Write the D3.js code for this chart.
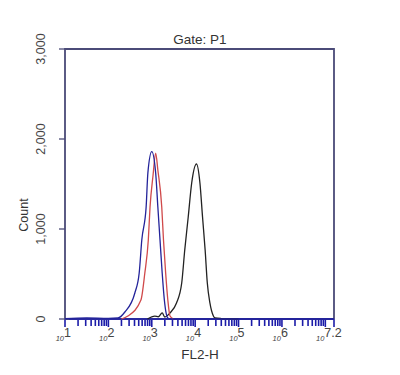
<!DOCTYPE html>
<html>
<head>
<meta charset="utf-8">
<script src="https://cdn.jsdelivr.net/npm/d3@7"></script>
<style>
  body { margin: 0; background: #fff; }
  text { font-family: "Liberation Sans", Arial, sans-serif; }
</style>
</head>
<body>
<div id="container"></div>
<script>
let w = 400;
let h = 375;

// histogram outlines: log10(FL2-H) and count
let blueLog   = [1.0, 1.5, 2.0, 2.22, 2.38, 2.61, 2.71, 2.77, 2.87, 2.91, 3.0, 3.09, 3.14, 3.19, 3.24, 3.29, 3.33, 3.37, 3.45, 4.0, 5.0, 6.0, 7.2];
let blueCount = [5, 12, 8, 11, 78, 289, 511, 878, 1244, 1622, 1859, 1622, 1244, 878, 511, 211, 67, 11, 0, 0, 0, 0, 0];

let redLog   = [2.3, 2.45, 2.75, 2.84, 2.92, 2.96, 3.03, 3.09, 3.14, 3.23, 3.27, 3.32, 3.37, 3.42, 3.5];
let redCount = [0, 33, 211, 511, 878, 1244, 1600, 1844, 1656, 1244, 878, 511, 211, 33, 0];

let blackLog   = [2.9, 3.07, 3.15, 3.24, 3.30, 3.42, 3.57, 3.69, 3.76, 3.84, 3.92, 4.03, 4.11, 4.17, 4.23, 4.28, 4.34, 4.42, 4.46, 4.6, 5.0];
let blackCount = [0, 33, 25, 67, 22, 67, 178, 400, 767, 1133, 1511, 1722, 1511, 1133, 767, 400, 178, 33, 11, 5, 0];

let yTicks = [0, 1000, 2000, 3000];
let xDecades = [1, 2, 3, 4, 5, 6, 7];
let xTickLabels = ["1", "2", "3", "4", "5", "6", "7.2"];

let padL = 65, padR = 334, padT = 49, padB = 319;

let viz = d3.select("#container")
  .append("svg")
  .attr("width", w)
  .attr("height", h);

let x = d3.scaleLinear().domain([1, 7.2]).range([padL, padR]);
let y = d3.scaleLinear().domain([0, 3000]).range([padB, padT]);

// minor/major ticks along the bottom, log spacing
let tickPos = [];
xDecades.forEach(d => {
  for (let k = 1; k <= 9; k++) {
    let v = d + Math.log10(k);
    if (v <= 7.2) tickPos.push({v: v, major: k === 1});
  }
});
tickPos.push({v: 7.2, major: true});

viz.append("g").selectAll("line").data(tickPos).enter()
  .append("line")
  .attr("x1", d => x(d.v)).attr("x2", d => x(d.v))
  .attr("y1", padB)
  .attr("y2", d => d.major ? padB + 8 : padB + 7)
  .attr("stroke", "#1c1ca8")
  .attr("stroke-width", 1.6);

// frame
viz.append("path")
  .attr("d", `M${padL},${padB}V${padT}H${padR}V${padB}`)
  .attr("fill", "none")
  .attr("stroke", "#4b4b78")
  .attr("stroke-width", 1.8);
viz.append("line")
  .attr("x1", padL).attr("x2", padR)
  .attr("y1", padB).attr("y2", padB)
  .attr("stroke", "#2a2aa0")
  .attr("stroke-width", 1.8);

// y ticks
viz.append("g").selectAll("line").data(yTicks).enter()
  .append("line")
  .attr("x1", padL - 6).attr("x2", d => d === 0 ? padL + 4 : padL)
  .attr("y1", d => y(d)).attr("y2", d => y(d))
  .attr("stroke", "#4b4b78")
  .attr("stroke-width", 1.3);

viz.append("g").selectAll("text").data(yTicks).enter()
  .append("text")
  .attr("transform", d => `translate(${padL - 20},${y(d)}) rotate(-90)`)
  .attr("text-anchor", "middle")
  .attr("font-size", 12.5)
  .attr("fill", "#444")
  .text(d => d3.format(",")(d));

viz.append("text")
  .attr("transform", `translate(28,${215}) rotate(-90)`)
  .attr("text-anchor", "middle")
  .attr("font-size", 12.5)
  .attr("fill", "#333")
  .text("Count");

// x tick labels: small "10" and raised exponent
let xl = viz.append("g").selectAll("g").data(xDecades).enter()
  .append("g")
  .attr("transform", d => `translate(${x(d)},0)`);
xl.append("text")
  .attr("x", -1).attr("y", 341)
  .attr("text-anchor", "end")
  .attr("font-size", 7.5)
  .attr("font-style", "italic")
  .attr("fill", "#444")
  .text("10");
xl.append("text")
  .attr("x", -1).attr("y", 337)
  .attr("font-size", 12.5)
  .attr("fill", "#444")
  .text((d, i) => xTickLabels[i]);

viz.append("text")
  .attr("x", 200).attr("y", 359)
  .attr("text-anchor", "middle")
  .attr("font-size", 13.5)
  .attr("fill", "#333")
  .text("FL2-H");

viz.append("text")
  .attr("x", 200).attr("y", 44)
  .attr("text-anchor", "middle")
  .attr("font-size", 13.5)
  .attr("fill", "#333")
  .text("Gate: P1");

// curves
let line = d3.line()
  .x(d => x(d[0]))
  .y(d => y(d[1]))
  .curve(d3.curveMonotoneX);

let series = [
  {log: blackLog, count: blackCount, color: "#222"},
  {log: redLog, count: redCount, color: "#d0494a"},
  {log: blueLog, count: blueCount, color: "#23239a"}
];

viz.append("g").selectAll("path").data(series).enter()
  .append("path")
  .attr("d", s => line(s.log.map((v, i) => [v, s.count[i]])))
  .attr("fill", "none")
  .attr("stroke", s => s.color)
  .attr("stroke-width", 1.3);
</script>
</body>
</html>
